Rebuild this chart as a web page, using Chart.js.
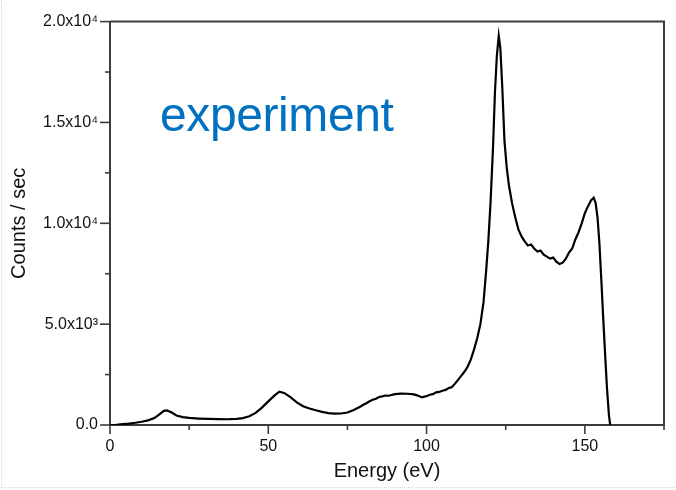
<!DOCTYPE html>
<html lang="en">
<head>
    <meta charset="UTF-8">
    <title>Counts vs Energy</title>
    <style>
        html, body { margin: 0; padding: 0; background: #fff; }
        #wrap { position: relative; width: 676px; height: 490px; }
        #frame { position: absolute; left: 1px; top: 0; width: 675px; height: 487px;
                 border-left: 1px dotted #d8d8d8; border-bottom: 1px dotted #d8d8d8; pointer-events: none; }
        #note { position: absolute; left: 160px; top: 87px; font-family: "Liberation Sans", Arial, sans-serif;
                font-size: 48px; color: #0070c0; letter-spacing: -0.4px; }
    </style>
</head>
<body>
<div id="wrap">
    <canvas id="spectrum" width="676" height="490"></canvas>
    <div id="frame"></div>
    <div id="note">experiment</div>
</div>

<script src="https://cdn.jsdelivr.net/npm/chart.js"></script>
<script>
    // energy (eV) and count rate
    var energy = [0, 2, 4, 6, 8, 10, 12, 14, 15.5, 17, 18, 19.5, 21, 23, 25, 28, 31, 34, 37, 40,
        42, 44, 46, 48, 50, 52, 53.5, 55, 57, 59, 61, 63, 65, 67, 69, 71, 73, 75, 77, 79,
        80, 81, 82, 83, 84, 85, 86, 87, 88, 90, 92, 94, 96, 97, 98.5, 100, 101, 102, 103, 104,
        105, 106, 107, 108, 109, 110, 111, 112, 113, 114, 115, 116, 117, 118, 118.8, 119.5, 120.2, 121, 121.6, 122.2,
        122.8, 123.3, 123.9, 124.6, 125.3, 126, 127, 128, 129, 130, 131, 132, 133, 134, 135, 136, 137, 138, 139, 140,
        141, 142, 143, 144, 145, 146, 147, 148, 149, 150, 151, 152, 152.8, 153.4, 154, 154.6, 155.2, 155.8, 156.4, 157,
        157.6, 158];
    var counts = [0, 10, 40, 70, 110, 160, 230, 340, 520, 700, 720, 620, 470, 390, 350, 320, 300, 290, 285, 300,
        340, 430, 600, 860, 1170, 1470, 1650, 1590, 1380, 1120, 930, 820, 730, 650, 590, 560, 570, 620, 740, 900,
        1000, 1080, 1180, 1250, 1300, 1390, 1420, 1460, 1450, 1530, 1560, 1550, 1520, 1470, 1370, 1430, 1500, 1530, 1620, 1640,
        1700, 1740, 1830, 1880, 2050, 2250, 2450, 2650, 2900, 3250, 3750, 4300, 5000, 6100, 7600, 9100, 11000, 13800, 16500, 18300,
        19300, 18700, 16800, 14100, 12800, 11900, 11000, 10300, 9700, 9350, 9100, 8900, 8950, 8750, 8600, 8650, 8450, 8350, 8250, 8300,
        8100, 7980, 8050, 8250, 8550, 8750, 9200, 9550, 10000, 10500, 10850, 11150, 11270, 11000, 10300, 9000, 7200, 5300, 3500, 1800,
        500, 0];

    var xTickValues = [0, 50, 100, 150];
    var xTickLabels = ['0', '50', '100', '150'];
    var yTickValues = [0, 5000, 10000, 15000, 20000];
    var yTickLabels = ['0.0', '5.0x10\u00b3', '1.0x10\u2074', '1.5x10\u2074', '2.0x10\u2074'];

    var axisColor = '#3c3c3c';
    var font = '"Liberation Sans", Arial, sans-serif';

    function labelFor(values, labels, v) {
        var i = values.indexOf(v);
        return i >= 0 ? labels[i] : '';
    }

    // major / minor tick marks outside the frame, plus the top and right frame lines
    var frameTicks = {
        id: 'frameTicks',
        afterDraw: function(chart) {
            var ctx = chart.ctx, a = chart.chartArea;
            var xs = chart.scales.x, ys = chart.scales.y;
            ctx.save();
            ctx.strokeStyle = axisColor;
            ctx.lineWidth = 2;
            ctx.beginPath();
            ctx.moveTo(a.left, a.top);
            ctx.lineTo(a.right, a.top);
            ctx.lineTo(a.right, a.bottom);
            ctx.stroke();
            ctx.lineWidth = 1.6;
            xs.ticks.forEach(function(t) {
                var px = xs.getPixelForValue(t.value);
                var len = xTickValues.indexOf(t.value) >= 0 ? 9 : 5;
                ctx.beginPath();
                ctx.moveTo(px, a.bottom);
                ctx.lineTo(px, a.bottom + len);
                ctx.stroke();
            });
            ys.ticks.forEach(function(t) {
                var py = ys.getPixelForValue(t.value);
                var len = yTickValues.indexOf(t.value) >= 0 ? 10 : 5;
                ctx.beginPath();
                ctx.moveTo(a.left, py);
                ctx.lineTo(a.left - len, py);
                ctx.stroke();
            });
            ctx.restore();
        }
    };

    var ctx = document.getElementById('spectrum').getContext('2d');
    var chart = new Chart(ctx, {
        type: 'line',
        data: {
            datasets: [{
                data: energy.map(function(e, i) { return { x: e, y: counts[i] }; }),
                borderColor: '#000',
                borderWidth: 2.2,
                pointRadius: 0,
                tension: 0,
                fill: false
            }]
        },
        options: {
            responsive: false,
            animation: false,
            layout: { padding: { top: 11, right: 1, left: 0, bottom: 0 } },
            plugins: { legend: { display: false }, tooltip: { enabled: false } },
            scales: {
                x: {
                    type: 'linear',
                    min: 0,
                    max: 175,
                    afterFit: function(s) { s.height = 65; },
                    grid: { display: false, drawTicks: false },
                    border: { color: axisColor, width: 2 },
                    ticks: {
                        stepSize: 25,
                        padding: 12,
                        maxRotation: 0,
                        autoSkip: false,
                        color: '#111',
                        font: { family: font, size: 16 },
                        callback: function(v) { return labelFor(xTickValues, xTickLabels, v); }
                    },
                    title: {
                        display: true,
                        text: 'Energy (eV)',
                        color: '#111',
                        font: { family: font, size: 20 },
                        padding: { top: 0, bottom: 7 }
                    }
                },
                y: {
                    min: 0,
                    max: 20000,
                    afterFit: function(s) { s.width = 110; },
                    grid: { display: false, drawTicks: false },
                    border: { color: axisColor, width: 2 },
                    ticks: {
                        stepSize: 2500,
                        padding: 12,
                        autoSkip: false,
                        color: '#111',
                        font: { family: font, size: 16 },
                        callback: function(v) { return labelFor(yTickValues, yTickLabels, v); }
                    },
                    title: {
                        display: true,
                        text: 'Counts / sec',
                        color: '#111',
                        font: { family: font, size: 20 },
                        padding: { top: 7, bottom: 0 }
                    }
                }
            }
        },
        plugins: [frameTicks]
    });
</script>
</body>
</html>
